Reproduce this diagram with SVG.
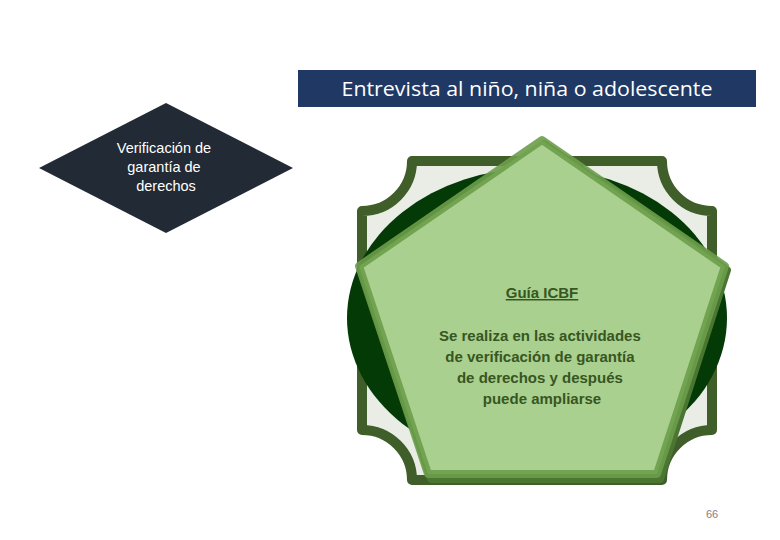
<svg xmlns="http://www.w3.org/2000/svg" width="780" height="540" viewBox="0 0 780 540">
<style>
.lbl{font-family:"Liberation Sans",Arial,sans-serif;text-anchor:middle}
.wt{fill:#ffffff}
.gt{fill:#375623;font-weight:bold;font-size:15px}
</style>
<rect width="780" height="540" fill="#ffffff"/>
<g id="connectors"></g>
<g id="banner">
<rect x="298" y="70" width="458" height="37" fill="#1f3864"/>
<text class="wt" x="527" y="96" font-size="20" font-family="'Open Sans','Liberation Sans',sans-serif" font-weight="500" text-anchor="middle" textLength="371" lengthAdjust="spacingAndGlyphs">Entrevista al niño, niña o adolescente</text>
</g>
<g id="diamond">
<polygon points="166,103 293,168 166,233 39,168" fill="#222a35"/>
<text class="lbl wt" font-size="14.5">
<tspan x="166" y="153">Verificación de</tspan>
<tspan x="166" y="172">garantía de</tspan>
<tspan x="166" y="191">derechos</tspan>
</text>
</g>
<g id="plaque">
<path d="M412,161 H662 A50,50 0 0 0 712,211 V430 A50,50 0 0 0 662,480 H412 A50,50 0 0 0 362,430 V211 A50,50 0 0 0 412,161 Z" fill="#e9ede5" stroke="#3f5e2a" stroke-width="10" stroke-linejoin="round"/>
<ellipse cx="537" cy="318" rx="190" ry="150" fill="#033a06"/>
</g>
<g id="pentagon">
<polygon points="544,144 727,270 660,479 431,479 362,270" fill="#4b7632" stroke="#4b7632" stroke-width="8" stroke-linejoin="round"/>
<polygon points="542,140 725,266 657,474 428,474 359,266" fill="#a9d08e" stroke="#6b9d4a" stroke-width="8" stroke-linejoin="round" stroke-opacity="0.9"/>
<text class="lbl gt" x="542" y="298" text-decoration="underline">Guía ICBF</text>
<text class="lbl gt">
<tspan x="542" y="341">Se realiza en las actividades</tspan>
<tspan x="542" y="362">de verificación de garantía</tspan>
<tspan x="542" y="383">de derechos y después</tspan>
<tspan x="542" y="404">puede ampliarse</tspan>
</text>
</g>
<text class="lbl" x="712" y="518" font-size="11" fill="#7f7f7f">66</text>
</svg>
